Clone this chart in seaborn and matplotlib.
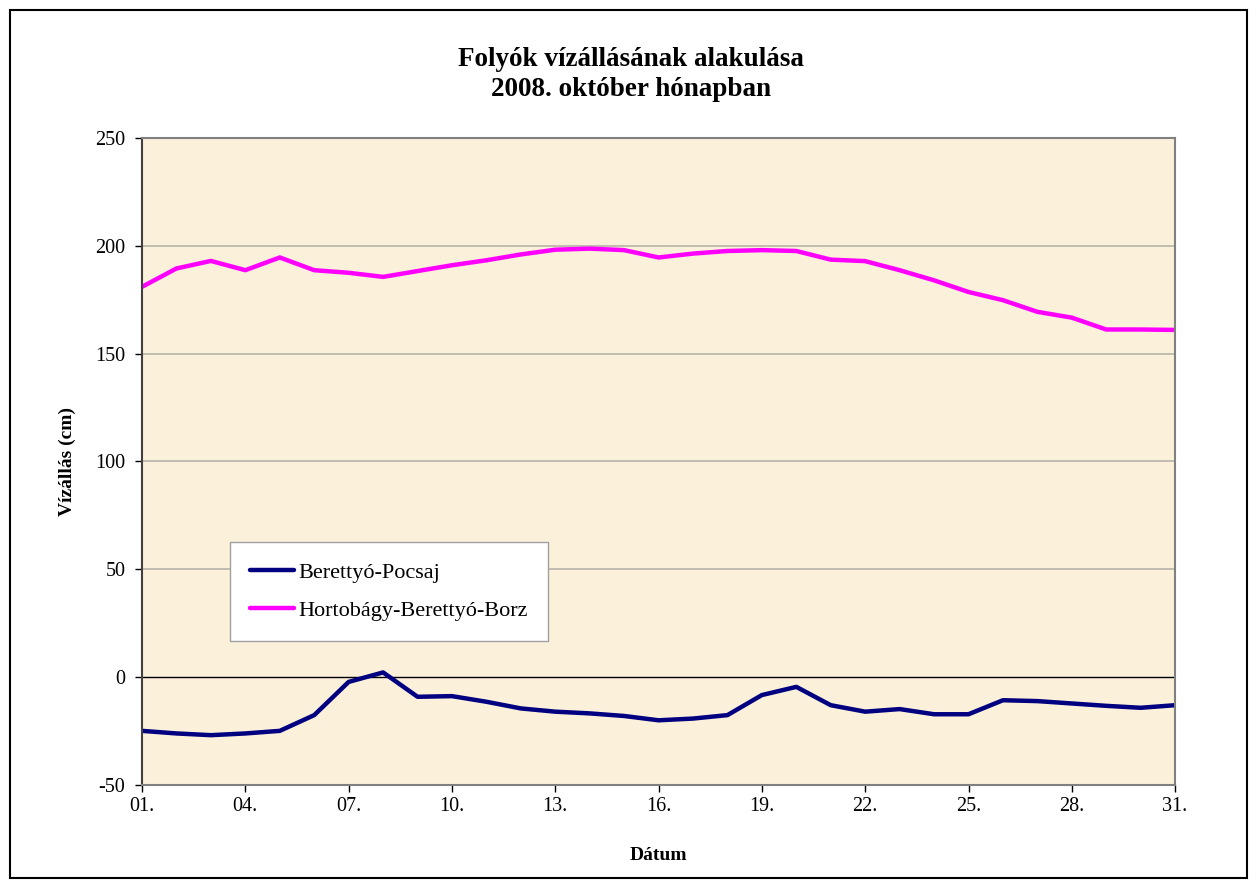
import matplotlib
matplotlib.use("Agg")
import matplotlib.pyplot as plt
import seaborn as sns
from matplotlib.patches import Rectangle

# Daily water levels, October 2008 (cm)
days = list(range(1, 32))
berettyo_pocsaj = [-24.9, -26.1, -26.9, -26.1, -24.9, -17.6, -2.2, 2.2, -9.1, -8.8,
                   -11.4, -14.5, -16.0, -16.8, -18.0, -20.0, -19.2, -17.6, -8.3, -4.5,
                   -13.0, -16.0, -14.8, -17.2, -17.2, -10.7, -11.1, -12.2, -13.3, -14.2,
                   -13.0]
hortobagy_borz = [181.0, 189.5, 193.0, 188.7, 194.6, 188.7, 187.5, 185.6, 188.3, 191.0,
                  193.3, 196.0, 198.2, 198.7, 198.0, 194.6, 196.4, 197.6, 198.0, 197.6,
                  193.6, 192.9, 188.7, 184.0, 178.6, 174.8, 169.4, 166.7, 161.2, 161.2,
                  161.0]
series_names = ["Berettyó-Pocsaj", "Hortobágy-Berettyó-Borz"]
series_colors = ["#000080", "#FF00FF"]
tick_days = list(range(1, 32, 3))
tick_labels = [f"{d:02d}." for d in tick_days]
y_ticks = [-50, 0, 50, 100, 150, 200, 250]

sns.set_theme(style="white")
plt.rcParams["font.family"] = ["Liberation Serif", "DejaVu Serif"]
plt.rcParams["axes.unicode_minus"] = False
plt.rcParams["text.color"] = "black"
plt.rcParams["axes.labelcolor"] = "black"

fig = plt.figure(figsize=(12.56, 8.88), dpi=100)
ax = fig.add_axes([0.1131, 0.116, 0.8225, 0.7286])
ax.set_facecolor("#FBF0DA")

for vals, name, col in zip([berettyo_pocsaj, hortobagy_borz], series_names, series_colors):
    sns.lineplot(x=days, y=vals, ax=ax, color=col, linewidth=3.2, label=name,
                 solid_joinstyle="round", solid_capstyle="round")

ax.set_xlim(1, 31)
ax.set_ylim(-50, 250)
ax.set_yticks(y_ticks)
ax.set_xticks(tick_days)
ax.set_xticklabels(tick_labels)
ax.tick_params(axis="both", labelsize=14.5, colors="black", length=5, width=1,
               direction="out", bottom=True, left=True)
ax.tick_params(axis="x", pad=4)
ax.tick_params(axis="y", pad=7)
for v in [50, 100, 150, 200]:
    ax.axhline(v, color="#B8B2A8", linewidth=1.2, zorder=0.5)
ax.axhline(0, color="black", linewidth=1, zorder=1)
for s in ax.spines.values():
    s.set_color("#808080")
    s.set_linewidth(1.5)
ax.spines["left"].set_color("#404040")

ax.set_xlabel("Dátum", fontsize=14, fontweight="bold", labelpad=22)
ax.set_ylabel("Vízállás (cm)", fontsize=14, fontweight="bold", labelpad=14)

fig.text(0.502, 0.9165, "Folyók vízállásának alakulása\n2008. október hónapban",
         ha="center", va="center", fontsize=19.5, fontweight="bold", linespacing=1.25)

leg = ax.legend(loc="upper left", bbox_to_anchor=(0.085, 0.3756), fontsize=16,
                frameon=True, fancybox=False, framealpha=1, edgecolor="#A0A0A0",
                borderpad=0.9, labelspacing=0.8, handlelength=2.0, handletextpad=0.2,
                borderaxespad=0)
leg.get_frame().set_linewidth(1.0)

fig.patches.append(Rectangle((0.008, 0.011), 0.985, 0.978, transform=fig.transFigure,
                             fill=False, edgecolor="black", linewidth=1.5))

fig.savefig("out.png", dpi=100)
